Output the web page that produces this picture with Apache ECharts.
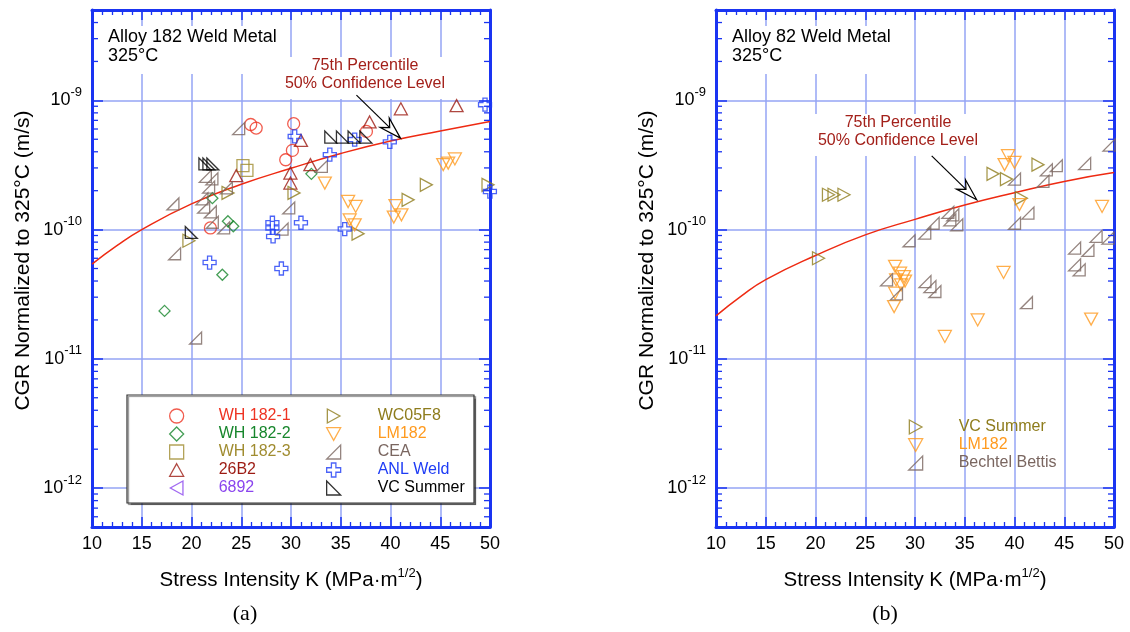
<!DOCTYPE html>
<html>
<head>
<meta charset="utf-8">
<script src="https://cdn.jsdelivr.net/npm/echarts@6/dist/echarts.min.js"></script>
<style>
  html, body { margin: 0; padding: 0; background: #fff; }
  #chart { width: 1130px; height: 632px; }
</style>
</head>
<body>
<div id="chart"></div>
<script>
// ---- Alloy 182 weld metal: [K (MPa·m^1/2), CGR (m/s)] ----
const WH_182_1 = [[25.95,6.5e-10],[26.5,6.1e-10],[30.27,6.6e-10],[30.14,4.1e-10],[29.47,3.47e-10],[37.58,5.75e-10],[21.9,1.03e-10]];
const WH_182_2 = [[22.1,1.75e-10],[23.66,1.16e-10],[24.2,1.06e-10],[23.1,4.47e-11],[17.29,2.35e-11],[32.05,2.7e-10]];
const WH_182_3 = [[25.17,3.12e-10],[25.57,2.87e-10]];
const B26B2 = [[41.04,8.6e-10],[46.64,9.1e-10],[37.9,6.8e-10],[29.94,2.74e-10],[29.94,2.29e-10],[24.5,2.61e-10],[31.95,3.18e-10],[31.0,4.9e-10]];
const H6892 = [];
const WC05F8 = [[23.67,1.92e-10],[30.3,1.92e-10],[19.74,8.2e-11],[43.6,2.22e-10],[49.8,2.22e-10],[41.77,1.7e-10],[36.74,9.3e-11]];
const LM182_A = [[33.4,2.29e-10],[45.3,3.18e-10],[45.8,3.27e-10],[46.47,3.52e-10],[35.74,1.65e-10],[36.5,1.51e-10],[40.5,1.53e-10],[41.1,1.3e-10],[40.33,1.25e-10],[35.9,1.19e-10],[36.4,1.09e-10]];
const CEA = [[21.39,2.58e-10],[22.05,2.47e-10],[21.72,2.13e-10],[21.05,1.73e-10],[21.22,1.49e-10],[21.89,1.37e-10],[22.09,1.14e-10],[23.5,2.1e-10],[23.23,1.03e-10],[18.13,1.58e-10],[18.3,6.5e-11],[24.74,6.04e-10],[29.77,1.47e-10],[29.1,1.01e-10],[20.41,1.45e-11],[33.05,3.08e-10]];
const ANL_WELD = [[30.37,5.26e-10],[49.5,9.26e-10],[36.4,4.97e-10],[39.93,4.77e-10],[33.9,3.8e-10],[49.99,1.97e-10],[35.4,1.01e-10],[28.13,1.13e-10],[28.13,1.03e-10],[28.2,8.85e-11],[29.03,5.0e-11],[31.0,1.13e-10],[21.82,5.56e-11]];
const VC_SUMMER_A = [[21.35,3.22e-10],[21.75,3.22e-10],[22.15,3.22e-10],[19.98,9.5e-11],[34.0,5.2e-10],[35.17,5.2e-10],[36.34,5.2e-10],[37.52,5.2e-10]];

// ---- Alloy 82 weld metal ----
const VC_SUMMER_B = [[21.3,1.86e-10],[21.86,1.86e-10],[22.86,1.86e-10],[20.3,6.0e-11],[37.84,2.7e-10],[39.19,2.46e-10],[42.36,3.18e-10],[40.69,1.75e-10]];
const LM182_B = [[39.35,3.73e-10],[40.0,3.31e-10],[39.0,3.18e-10],[40.5,1.56e-10],[48.8,1.51e-10],[38.9,4.66e-11],[36.3,2.0e-11],[47.7,2.03e-11],[33.0,1.49e-11],[28.0,5.2e-11],[28.5,4.6e-11],[28.9,4.33e-11],[28.1,4.08e-11],[29.0,4.0e-11],[28.6,3.73e-11],[28.0,3.22e-11],[27.9,2.54e-11]];
const BECHTEL_BETTIS = [[49.5,4.5e-10],[40.0,2.46e-10],[43.2,2.9e-10],[44.2,3.12e-10],[47.05,3.24e-10],[42.86,2.36e-10],[41.35,1.34e-10],[40.0,1.12e-10],[48.2,8.86e-11],[49.4,8.6e-11],[46.04,7.2e-11],[47.38,6.9e-11],[46.04,5.33e-11],[46.5,4.88e-11],[41.2,2.72e-11],[33.3,1.36e-10],[33.8,1.3e-10],[33.5,1.19e-10],[34.2,1.09e-10],[31.82,1.12e-10],[30.98,9.4e-11],[29.4,8.2e-11],[27.14,4.09e-11],[28.14,3.18e-11],[31.0,3.96e-11],[31.5,3.62e-11],[32.0,3.32e-11]];

// ---- 75th percentile disposition curves ----
const K_CURVE = [10,12.5,15,20,25,30,35,40,45,50];
const CGR_182_75TH = [5.4e-11,7.5e-11,1.0e-10,1.58e-10,2.24e-10,2.98e-10,3.88e-10,4.85e-10,5.8e-10,6.87e-10];
const CGR_82_75TH = [2.15e-11,3.04e-11,4.1e-11,6.3e-11,9.1e-11,1.2e-10,1.55e-10,1.93e-10,2.36e-10,2.76e-10];

const FONT = '"Liberation Sans", Arial, Helvetica, sans-serif';
const BLUE = '#1a34f2';
const GRIDC = '#95a4f4';
const CURVE_RED = '#ee2a12';
const NOTE_RED = '#a3201a';

const SYM = {
  up: 'path://M5,0L10,9L0,9Z',
  down: 'path://M0,0L10,0L5,9Z',
  right: 'path://M0,0L9,5L0,10Z',
  left: 'path://M9,0L0,5L9,10Z',
  diamond: 'path://M5,0L10,5L5,10L0,5Z',
  cea: 'path://M10,0L10,10L0,10Z',
  vcs: 'path://M0,0L10,10L0,10Z',
  plus: 'path://M3.4,0H6.6V3.4H10V6.6H6.6V10H3.4V6.6H0V3.4H3.4Z'
};

const chart = echarts.init(document.getElementById('chart'), null, { renderer: 'canvas' });

function xAxisDef(gridIndex, bottom) {
  return {
    type: 'value', gridIndex, position: bottom ? 'bottom' : 'top',
    min: 10, max: 50, interval: 5,
    axisLine: { show: true, onZero: false, lineStyle: { color: BLUE, width: 3 } },
    axisTick: { show: true, inside: true, length: 10, lineStyle: { color: BLUE, width: 1.5 } },
    minorTick: { show: true, splitNumber: 5, length: 5, lineStyle: { color: BLUE, width: 1.3 } },
    axisLabel: { show: bottom, color: '#000', fontSize: 18, fontFamily: FONT, margin: 8 },
    splitLine: { show: bottom, lineStyle: { color: GRIDC, width: 1.5 } },
    name: bottom ? 'Stress Intensity K (MPa·m{s|1/2})' : '',
    nameLocation: 'middle', nameGap: 40,
    nameTextStyle: {
      color: '#000', fontSize: 20.5, fontFamily: FONT,
      rich: { s: { fontSize: 13, fontFamily: FONT, padding: [0, 0, 14, 0] } }
    }
  };
}

function yAxisDef(gridIndex, left) {
  return {
    type: 'log', logBase: 10, gridIndex, position: left ? 'left' : 'right',
    min: 5e-13, max: 5e-9,
    axisLine: { show: true, onZero: false, lineStyle: { color: BLUE, width: 3 } },
    axisTick: { show: true, inside: true, length: 11, lineStyle: { color: BLUE, width: 1.5 } },
    minorTick: { show: false },
    axisLabel: {
      show: left, margin: 10, color: '#000', fontFamily: FONT,
      formatter: function (v) {
        const e = Math.log10(v);
        if (Math.abs(e - Math.round(e)) > 0.01) return '';
        return '{b|10}{e|' + Math.round(e) + '}';
      },
      rich: {
        b: { fontSize: 18, fontFamily: FONT, color: '#000' },
        e: { fontSize: 13, fontFamily: FONT, color: '#000', padding: [0, 0, 16, 0] }
      }
    },
    splitLine: { show: left, lineStyle: { color: GRIDC, width: 1.5 } },
    name: left ? 'CGR Normalized to 325°C (m/s)' : '',
    nameLocation: 'middle', nameGap: 58, nameRotate: 90,
    nameTextStyle: { color: '#000', fontSize: 21, fontFamily: FONT, padding: [0, 0, 0, 16] }
  };
}

function scatter(name, data, symbol, size, color, grid) {
  return {
    type: 'scatter', name, data, symbol, symbolSize: size,
    xAxisIndex: grid * 2, yAxisIndex: grid * 2,
    itemStyle: { color: 'rgba(0,0,0,0)', borderColor: color, borderWidth: 1.3 },
    emphasis: { disabled: true }, silent: true, z: 3
  };
}

function curve(ys, grid) {
  return {
    type: 'line', name: 'curve' + grid, data: K_CURVE.map((k, i) => [k, ys[i]]),
    xAxisIndex: grid * 2, yAxisIndex: grid * 2,
    smooth: 0.5, symbol: 'none', silent: true,
    lineStyle: { color: CURVE_RED, width: 1.5 }, z: 2
  };
}

const LEFT_SERIES = [
  { name: 'WH 182-1', data: WH_182_1, symbol: 'circle', size: 12, color: '#ee3322' },
  { name: 'WH 182-2', data: WH_182_2, symbol: SYM.diamond, size: 11, color: '#17862c' },
  { name: 'WH 182-3', data: WH_182_3, symbol: 'rect', size: 12, color: '#a08c30' },
  { name: '26B2', data: B26B2, symbol: SYM.up, size: [13, 12], color: '#9c1a12' },
  { name: '6892', data: H6892, symbol: SYM.left, size: [12, 13], color: '#8a44ee' },
  { name: 'WC05F8', data: WC05F8, symbol: SYM.right, size: [12, 13], color: '#8e7c1c' },
  { name: 'LM182', data: LM182_A, symbol: SYM.down, size: [13, 12], color: '#ff9a1e' },
  { name: 'CEA', data: CEA, symbol: SYM.cea, size: [12, 12], color: '#7a6660' },
  { name: 'ANL Weld', data: ANL_WELD, symbol: SYM.plus, size: 13, color: '#1e3cf5' },
  { name: 'VC Summer', data: VC_SUMMER_A, symbol: SYM.vcs, size: [12, 12], color: '#000000' }
];
const RIGHT_SERIES = [
  { name: 'VC Summer · 82', data: VC_SUMMER_B, symbol: SYM.right, size: [12, 13], color: '#8e7c1c' },
  { name: 'LM182 · 82', data: LM182_B, symbol: SYM.down, size: [13, 12], color: '#ff9a1e' },
  { name: 'Bechtel Bettis', data: BECHTEL_BETTIS, symbol: SYM.cea, size: [12, 12], color: '#7a6660' }
];

function legendItems(list) {
  return list.map(s => ({
    name: s.name,
    itemStyle: { color: 'rgba(0,0,0,0)', borderColor: s.color, borderWidth: 1.3 },
    textStyle: { color: s.color }
  }));
}
function legendDef(list, left, top, pad) {
  return {
    orient: 'vertical', left, top, padding: 0, itemGap: 2,
    itemWidth: 14, itemHeight: 14, selectedMode: false,
    data: legendItems(list),
    formatter: n => n.replace(' · 82', ''),
    textStyle: { fontSize: 16, fontFamily: FONT, lineHeight: 14, padding: [0, 0, 0, pad] }
  };
}

chart.setOption({
  animation: false,
  backgroundColor: '#fff',
  grid: [
    { left: 92, top: 10, width: 398, height: 517, containLabel: false },
    { left: 716, top: 10, width: 398, height: 517, containLabel: false }
  ],
  xAxis: [xAxisDef(0, true), xAxisDef(0, false), xAxisDef(1, true), xAxisDef(1, false)],
  yAxis: [yAxisDef(0, true), yAxisDef(0, false), yAxisDef(1, true), yAxisDef(1, false)],
  legend: [
    legendDef(LEFT_SERIES.slice(0, 5), 169, 408, 30),
    legendDef(LEFT_SERIES.slice(5), 326, 408, 32),
    legendDef(RIGHT_SERIES, 908, 419, 31)
  ],
  series: [
    curve(CGR_182_75TH, 0),
    curve(CGR_82_75TH, 1),
    ...LEFT_SERIES.map(s => scatter(s.name, s.data, s.symbol, s.size, s.color, 0)),
    ...RIGHT_SERIES.map(s => scatter(s.name, s.data, s.symbol, s.size, s.color, 1))
  ]
});

// ---- decorations placed through the axes' own scales ----
function seg(x1, y1, x2, y2, color, w, z) {
  return { type: 'line', shape: { x1, y1, x2, y2 }, style: { stroke: color, lineWidth: w }, z: z || 6, silent: true };
}
function arrow(tip, dx, dy) {
  const tail = [tip[0] + dx, tip[1] + dy];
  const len = Math.hypot(dx, dy);
  const d = [-dx / len, -dy / len];
  const p = [-d[1], d[0]];
  const base = [tip[0] - 22 * d[0], tip[1] - 22 * d[1]];
  const notch = [tip[0] - 15 * d[0], tip[1] - 15 * d[1]];
  return [
    seg(tail[0], tail[1], notch[0], notch[1], '#000', 1.2, 7),
    {
      type: 'polygon', silent: true, z: 7,
      shape: { points: [tip, [base[0] + 6.5 * p[0], base[1] + 6.5 * p[1]], notch, [base[0] - 6.5 * p[0], base[1] - 6.5 * p[1]]] },
      style: { fill: '#fff', stroke: '#000', lineWidth: 1.2 }
    }
  ];
}
function text(x, y, str, opts) {
  return {
    type: 'text', x, y, silent: true, z: opts.z || 5,
    style: Object.assign({ text: str, fontFamily: FONT, fill: '#000' }, opts.style)
  };
}

const els = [];
[0, 2].forEach(ax => {
  const xl = chart.convertToPixel({ xAxisIndex: ax }, 10);
  const xr = chart.convertToPixel({ xAxisIndex: ax }, 50);
  for (let e = -13; e <= -9; e++) {
    for (let m = 2; m <= 9; m++) {
      const v = m * Math.pow(10, e);
      if (v <= 5.01e-13 || v >= 4.99e-9) continue;
      const y = chart.convertToPixel({ yAxisIndex: ax }, v);
      els.push(seg(xl, y, xl + 6, y, BLUE, 1.3), seg(xr - 6, y, xr, y, BLUE, 1.3));
    }
  }
});

// panel titles
els.push(text(102, 26, 'Alloy 182 Weld Metal\n325°C', { style: { fontSize: 18, lineHeight: 19, backgroundColor: '#fff', padding: [2, 6, 8, 6] } }));
els.push(text(726, 26, 'Alloy 82 Weld Metal\n325°C', { style: { fontSize: 18, lineHeight: 19, backgroundColor: '#fff', padding: [2, 6, 8, 6] } }));

// curve annotations
els.push(text(365, 57, '75th Percentile\n50% Confidence Level', { style: { fontSize: 16, lineHeight: 18, fill: NOTE_RED, align: 'center', backgroundColor: '#fff', padding: [0, 3, 6, 3] } }));
els.push(text(898, 114, '75th Percentile\n50% Confidence Level', { style: { fontSize: 16, lineHeight: 18, fill: NOTE_RED, align: 'center', backgroundColor: '#fff', padding: [0, 3, 6, 3] } }));
els.push(...arrow(chart.convertToPixel({ xAxisIndex: 0, yAxisIndex: 0 }, [41, 5.1e-10]), -44, -43));
els.push(...arrow(chart.convertToPixel({ xAxisIndex: 2, yAxisIndex: 2 }, [36.2, 1.7e-10]), -45, -44));

// legend frame of panel (a)
els.push({
  type: 'rect', silent: true, z: 3,
  shape: { x: 127, y: 395, width: 347, height: 108 },
  style: { fill: '#fff', stroke: '#333', lineWidth: 1.2, shadowColor: 'rgba(0,0,0,0.45)', shadowOffsetX: 1.5, shadowOffsetY: 1.5, shadowBlur: 1 }
});

// panel captions
els.push(text(245, 614, '(a)', { style: { fontSize: 22, fontFamily: '"Liberation Serif", "Times New Roman", serif', align: 'center', verticalAlign: 'middle' } }));
els.push(text(885, 614, '(b)', { style: { fontSize: 22, fontFamily: '"Liberation Serif", "Times New Roman", serif', align: 'center', verticalAlign: 'middle' } }));

chart.setOption({ graphic: { elements: els } });
</script>
</body>
</html>
